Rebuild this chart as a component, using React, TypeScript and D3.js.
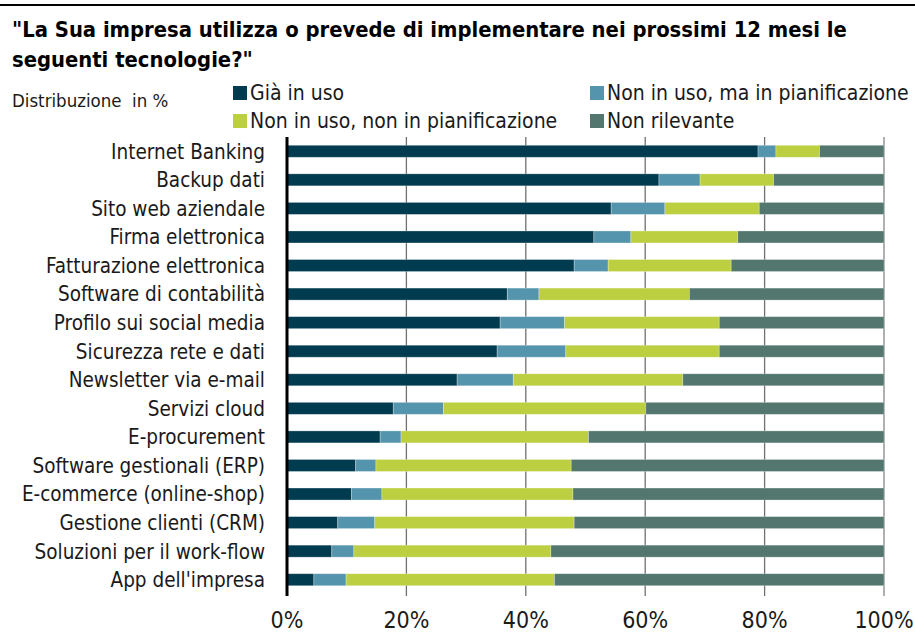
import React from "react";
import * as d3 from "d3";

const categories = [
  "Internet Banking",
  "Backup dati",
  "Sito web aziendale",
  "Firma elettronica",
  "Fatturazione elettronica",
  "Software di contabilità",
  "Profilo sui social media",
  "Sicurezza rete e dati",
  "Newsletter via e-mail",
  "Servizi cloud",
  "E-procurement",
  "Software gestionali (ERP)",
  "E-commerce (online-shop)",
  "Gestione clienti (CRM)",
  "Soluzioni per il work-flow",
  "App dell'impresa",
];

const giaInUso = [78.9, 62.3, 54.3, 51.4, 48.1, 36.9, 35.7, 35.2, 28.5, 17.8, 15.6, 11.5, 10.8, 8.5, 7.5, 4.5];
const inPianificazione = [3.0, 6.9, 9.0, 6.2, 5.7, 5.3, 10.8, 11.5, 9.4, 8.4, 3.5, 3.4, 5.1, 6.2, 3.7, 5.4];
const nonPianificazione = [7.3, 12.3, 15.8, 17.9, 20.6, 25.2, 25.9, 25.7, 28.4, 33.9, 31.4, 32.7, 32.0, 33.4, 33.0, 34.9];
const nonRilevante = [10.8, 18.5, 20.9, 24.5, 25.6, 32.6, 27.6, 27.6, 33.7, 39.9, 49.5, 52.4, 52.1, 51.9, 55.8, 55.2];

const seriesNames = [
  "Già in uso",
  "Non in uso, ma in pianificazione",
  "Non in uso, non in pianificazione",
  "Non rilevante",
];
const colors = ["#013b50", "#5594ad", "#bccf41", "#53766f"];
const xTicks = [0, 20, 40, 60, 80, 100];

const title1 = "\"La Sua impresa utilizza o prevede di implementare nei prossimi 12 mesi le";
const title2 = "seguenti tecnologie?\"";
const subtitle = "Distribuzione\u00a0 in %";

const FONT = "'DejaVu Sans Condensed', 'DejaVu Sans', sans-serif";

export default function App() {
  const W = 915;
  const H = 633;
  const left = 287;
  const right = 884;
  const top = 137;
  const bottom = 594;

  const x = d3.scaleLinear().domain([0, 100]).range([left, right]);
  const y = d3.scaleBand<string>().domain(categories).range([top, bottom]).paddingInner(0.58).paddingOuter(0.29);

  const rows = categories.map((c, i) => ({
    cat: c,
    values: [giaInUso[i], inPianificazione[i], nonPianificazione[i], nonRilevante[i]],
  }));
  const stack = d3
    .stack<any>()
    .keys(["0", "1", "2", "3"])
    .value((d: any, k: string) => d.values[+k]);
  const stacked = stack(rows);

  const legendPos = [
    { x: 233, y: 100 },
    { x: 590, y: 100 },
    { x: 233, y: 128 },
    { x: 590, y: 128 },
  ];

  return (
    <svg width={W} height={H} style={{ position: "absolute", left: 0, top: 0 }} fontFamily={FONT}>
      <rect width={W} height={H} fill="#fff" />
      <line x1={0} x2={W} y1={5} y2={5} stroke="#000" strokeWidth={2} />
      <text x={12} y={37} fontSize={21.8} fontWeight="bold" fill="#000">{title1}</text>
      <text x={12} y={67} fontSize={21.8} fontWeight="bold" fill="#000">{title2}</text>
      <text x={12} y={107} fontSize={18.5} fill="#1a1a1a">{subtitle}</text>

      {seriesNames.map((s, i) => (
        <g key={s}>
          <rect x={legendPos[i].x} y={legendPos[i].y - 14} width={14} height={14} fill={colors[i]} />
          <text x={legendPos[i].x + 17} y={legendPos[i].y} fontSize={21} fill="#1a1a1a">{s}</text>
        </g>
      ))}

      {xTicks.slice(1).map((t) => (
        <line key={t} x1={x(t)} x2={x(t)} y1={top} y2={bottom + 2}
          stroke={t === 100 ? "#b0b0b0" : "#707070"} strokeWidth={t === 100 ? 2 : 1.3} />
      ))}

      {stacked.map((layer, si) => (
        <g key={si}>
          {layer.map((d: any, i: number) => (
            <rect key={i} x={x(d[0])} y={y(categories[i])!} width={Math.max(0, x(d[1]) - x(d[0]))}
              height={y.bandwidth()} fill={colors[si]} stroke="#ffffff" strokeOpacity={0.35} strokeWidth={0.8} />
          ))}
        </g>
      ))}

      <line x1={left} x2={left} y1={top} y2={bottom + 2} stroke="#000" strokeWidth={3} />

      {categories.map((c) => (
        <text key={c} x={265} y={y(c)! + y.bandwidth() / 2} dy="0.36em" textAnchor="end" fontSize={20.5} fill="#1a1a1a">{c}</text>
      ))}

      {xTicks.map((t) => (
        <text key={t} x={x(t)} y={628} textAnchor="middle" fontSize={23} fill="#1a1a1a">{t}%</text>
      ))}
    </svg>
  );
}
